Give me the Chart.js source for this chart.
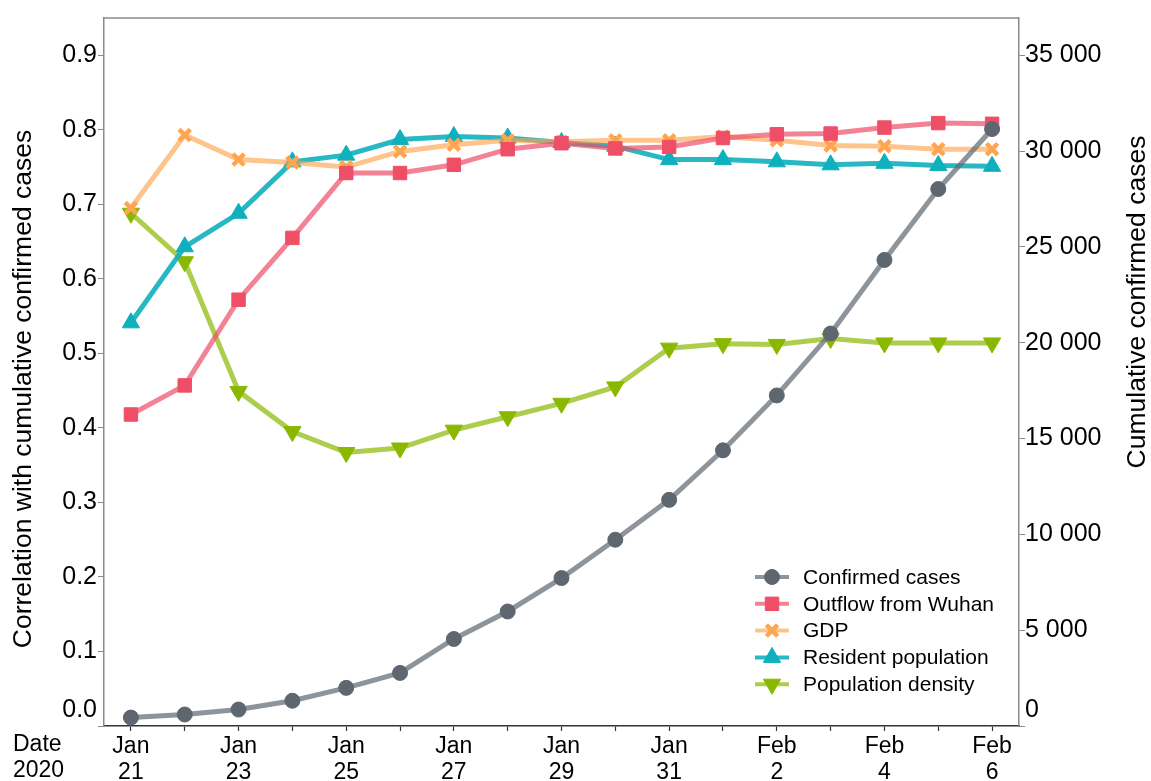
<!DOCTYPE html>
<html>
<head>
<meta charset="utf-8">
<script src="https://cdn.jsdelivr.net/npm/chart.js@4.4.1/dist/chart.umd.min.js"></script>
<style>
  body { margin: 0; background: #fff; }
  #wrap { width: 1151px; height: 781px; position: relative; }
</style>
</head>
<body>
<div id="wrap"><canvas id="myChart"></canvas></div>
<script>
// dates on the x axis
const dates = ["Jan 21", "Jan 22", "Jan 23", "Jan 24", "Jan 25", "Jan 26", "Jan 27", "Jan 28", "Jan 29",
               "Jan 30", "Jan 31", "Feb 1", "Feb 2", "Feb 3", "Feb 4", "Feb 5", "Feb 6"];

// cumulative confirmed cases (right axis)
const confirmedCases = [440, 600, 860, 1320, 1990, 2770, 4540, 5975, 7720, 9720, 11800, 14385, 17250, 20480, 24320, 28020, 31150];

// correlation with cumulative confirmed cases (left axis)
const outflowWuhan = [0.418, 0.457, 0.572, 0.655, 0.742, 0.742, 0.753, 0.774, 0.782, 0.775, 0.777, 0.789, 0.794, 0.795, 0.803, 0.809, 0.808];
const gdp = [0.695, 0.793, 0.760, 0.756, 0.750, 0.771, 0.780, 0.786, 0.784, 0.786, 0.786, 0.791, 0.786, 0.779, 0.778, 0.774, 0.774];
const residentPop = [0.541, 0.643, 0.688, 0.757, 0.766, 0.787, 0.791, 0.789, 0.783, 0.778, 0.760, 0.760, 0.757, 0.753, 0.755, 0.752, 0.751];
const popDensity = [0.688, 0.623, 0.449, 0.395, 0.367, 0.373, 0.397, 0.415, 0.433, 0.455, 0.507, 0.513, 0.512, 0.520, 0.514, 0.514, 0.514];

// axis ticks
const leftTicks = [0, 0.1, 0.2, 0.3, 0.4, 0.5, 0.6, 0.7, 0.8, 0.9];
const rightTicks = [0, 5000, 10000, 15000, 20000, 25000, 30000, 35000];

const font = "Arial, 'Liberation Sans', sans-serif";

function serie(label, data, axis, color, line, style, radius, extra) {
    return Object.assign({
        label: label,
        data: data,
        yAxisID: axis,
        borderColor: line,
        borderWidth: 5,
        pointBackgroundColor: color,
        pointBorderColor: color,
        pointBorderWidth: 1,
        pointStyle: style,
        pointRadius: radius,
        pointHoverRadius: radius,
        tension: 0,
        fill: false
    }, extra || {});
}

let datasets = [
    serie("Confirmed cases", confirmedCases, "yR", "#5e6670", "rgba(94,102,112,0.7)", "circle", 7.5),
    serie("Outflow from Wuhan", outflowWuhan, "yL", "#ee4f66", "rgba(238,79,102,0.7)", "rect", 9.5),
    serie("GDP", gdp, "yL", "#ffa54f", "rgba(255,165,79,0.65)", "crossRot", 8, {pointBorderWidth: 4.5}),
    serie("Resident population", residentPop, "yL", "#0fb0bd", "rgba(15,176,189,0.9)", "triangle", 10),
    serie("Population density", popDensity, "yL", "#8ab800", "rgba(138,184,0,0.7)", "triangle", 10, {pointRotation: 180})
];

// draws box top, axis titles, "Date 2020" and the legend inside the plot
const extras = {
    id: "extras",
    afterDraw(chart) {
        let ctx = chart.ctx;
        let a = chart.chartArea;
        ctx.save();
        ctx.strokeStyle = "#8a8a8a";
        ctx.lineWidth = 1.5;
        ctx.beginPath();
        ctx.moveTo(a.left, a.top);
        ctx.lineTo(a.right, a.top);
        ctx.stroke();

        ctx.fillStyle = "#000";
        ctx.font = "26.5px " + font;
        ctx.textAlign = "center";
        ctx.textBaseline = "middle";
        ctx.save();
        ctx.translate(24, 389);
        ctx.rotate(-Math.PI / 2);
        ctx.fillText("Correlation with cumulative confirmed cases", 0, 0);
        ctx.restore();
        ctx.save();
        ctx.translate(1138, 302);
        ctx.rotate(-Math.PI / 2);
        ctx.fillText("Cumulative confirmed cases", 0, 0);
        ctx.restore();

        ctx.font = "23px " + font;
        ctx.textAlign = "left";
        ctx.textBaseline = "top";
        ctx.fillText("Date", 13, a.bottom + 7);
        ctx.fillText("2020", 13, a.bottom + 7 + 26);

        // legend
        let x0 = 755, y0 = 577, step = 26.8;
        chart.data.datasets.forEach((ds, i) => {
            let y = y0 + i * step;
            ctx.strokeStyle = ds.borderColor;
            ctx.lineWidth = 4;
            ctx.beginPath();
            ctx.moveTo(x0, y);
            ctx.lineTo(x0 + 34, y);
            ctx.stroke();

            ctx.fillStyle = ds.pointBackgroundColor;
            ctx.strokeStyle = ds.pointBorderColor;
            ctx.lineWidth = ds.pointBorderWidth;
            Chart.helpers.drawPoint(ctx, {
                pointStyle: ds.pointStyle,
                rotation: ds.pointRotation || 0,
                radius: ds.pointRadius,
                borderWidth: ds.pointBorderWidth
            }, x0 + 17, y);

            ctx.fillStyle = "#000";
            ctx.font = "21px " + font;
            ctx.textAlign = "left";
            ctx.textBaseline = "middle";
            ctx.fillText(ds.label, 803, y + 1);
        });
        ctx.restore();
    }
};

let ctx = document.querySelector("#myChart");
let myChart = new Chart(ctx, {
    type: "line",
    data: { labels: dates, datasets },
    options: {
        responsive: true,
        maintainAspectRatio: false,
        animation: false,
        layout: { padding: { top: 18, left: 0, right: 0, bottom: 0 } },
        plugins: { legend: { display: false }, tooltip: { enabled: false } },
        scales: {
            x: {
                offset: true,
                afterFit: (s) => { s.height = 55; },
                border: { display: true, color: "#333", width: 1.5 },
                grid: { display: true, drawOnChartArea: false, drawTicks: true, tickLength: 5, color: "#333", tickWidth: 1.2 },
                ticks: {
                    autoSkip: false, maxRotation: 0, padding: 2, color: "#000",
                    font: { family: font, size: 23, lineHeight: 1.16 },
                    callback: (v, i) => i % 2 === 0 ? dates[i].split(" ") : ""
                }
            },
            yL: {
                position: "left",
                min: 0, max: 0.95,
                afterFit: (s) => { s.width = 104; },
                afterBuildTicks: (s) => { s.ticks = leftTicks.map(v => ({ value: v })); },
                border: { display: true, color: "#8a8a8a", width: 1.5 },
                grid: { display: true, drawOnChartArea: false, tickLength: 6, color: "#8a8a8a" },
                ticks: {
                    padding: 1, color: "#000",
                    font: { family: font, size: 25, lineHeight: 1.28 },
                    callback: (v) => v === 0 ? ["0.0", ""] : v.toFixed(1)
                }
            },
            yR: {
                position: "right",
                min: 0, max: 0.95 * 35000 / 0.9,
                afterFit: (s) => { s.width = 132; },
                afterBuildTicks: (s) => { s.ticks = rightTicks.map(v => ({ value: v })); },
                border: { display: true, color: "#8a8a8a", width: 1.5 },
                grid: { display: true, drawOnChartArea: false, tickLength: 6, color: "#8a8a8a" },
                ticks: {
                    padding: 0, color: "#000",
                    font: { family: font, size: 25, lineHeight: 1.28 },
                    callback: (v) => {
                        let t = String(v).replace(/\B(?=(\d{3})+(?!\d))/g, " ");
                        return v === 0 ? [t, ""] : t;
                    }
                }
            }
        }
    },
    plugins: [extras]
});
</script>
</body>
</html>
